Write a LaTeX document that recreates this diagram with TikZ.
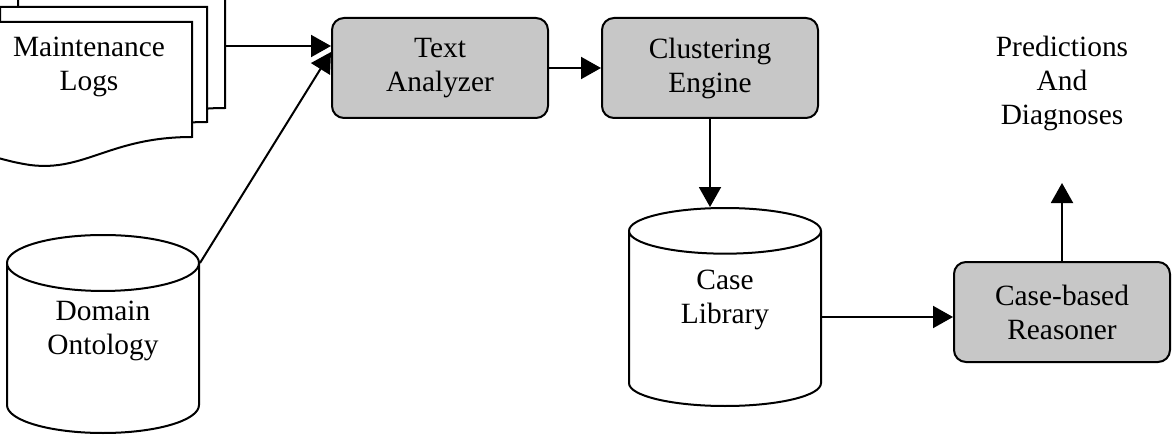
\documentclass[tikz,border=0pt]{standalone}
\usepackage{fontspec}
\setmainfont{Liberation Serif}
\usepackage{tikz}
\usetikzlibrary{shapes.geometric, arrows.meta}
\tikzstyle{procBox} = [rectangle, rounded corners=6pt, minimum width=108pt, minimum height=50pt, text centered, align=center, fill=black!22, draw=black, line width=1pt]
\tikzstyle{dbCyl} = [cylinder, shape border rotate=90, aspect=0.45, minimum width=96pt, minimum height=99pt, text centered, align=center, text depth=26pt, anchor=shape center, draw=black, line width=1pt]
\tikzstyle{logPage} = [fill=white, draw=black, line width=1pt]
\tikzstyle{flow} = [-{Triangle[length=10pt,width=11pt]}, line width=1pt]

\begin{document}
\begin{tikzpicture}[x=0.5pt, y=-0.5pt, font=\fontsize{14.7}{17}\selectfont]
    \useasboundingbox (0,0) rectangle (1173,444);

    % stack of log pages
    \draw[logPage, shift={(33,-29)}] (-15,22) -- (192,22) -- (192,137) .. controls (110,137) and (85,172) .. (30,165) .. controls (10,162) and (-5,157) .. (-15,154) -- cycle;
    \draw[logPage, shift={(15,-15)}] (-15,22) -- (192,22) -- (192,137) .. controls (110,137) and (85,172) .. (30,165) .. controls (10,162) and (-5,157) .. (-15,154) -- cycle;
    \draw[logPage] (-15,22) -- (192,22) -- (192,137) .. controls (110,137) and (85,172) .. (30,165) .. controls (10,162) and (-5,157) .. (-15,154) -- cycle;
    \node (Logs) [align=center] at (89,67) {Maintenance\\Logs};
    \coordinate (LogsOut) at (225,46);

    \node (DomOnt) [dbCyl] at (103,334) {Domain\\Ontology};

    \node (TextAn) [procBox] at (440,68) {Text\\Analyzer};
    \node (ClustEng) [procBox] at (710,68) {Clustering\\Engine};

    \node (CaseLib) [dbCyl] at (725,307) {Case\\Library};

    \node (CBR) [procBox] at (1062,312) {Case-based\\Reasoner};

    \node (Pred) [align=center] at (1062,83) {Predictions\\And\\Diagnoses};
    \coordinate (PredIn) at (1062,183);

    \draw[flow] (LogsOut) -- ([yshift=11pt]TextAn.west);
    \draw[flow] (DomOnt.after top) -- ([yshift=8pt]TextAn.west);
    \draw[flow] (TextAn) -- (ClustEng);
    \draw[flow] (ClustEng.south) -- (ClustEng.south |- CaseLib.top);
    \draw[flow] ([yshift=-5pt]CaseLib.shape center) ++(95,0) -- ([yshift=-5pt]CaseLib.shape center -| CBR.west);
    \draw[flow] (CBR.north) -- (PredIn);
\end{tikzpicture}
\end{document}
